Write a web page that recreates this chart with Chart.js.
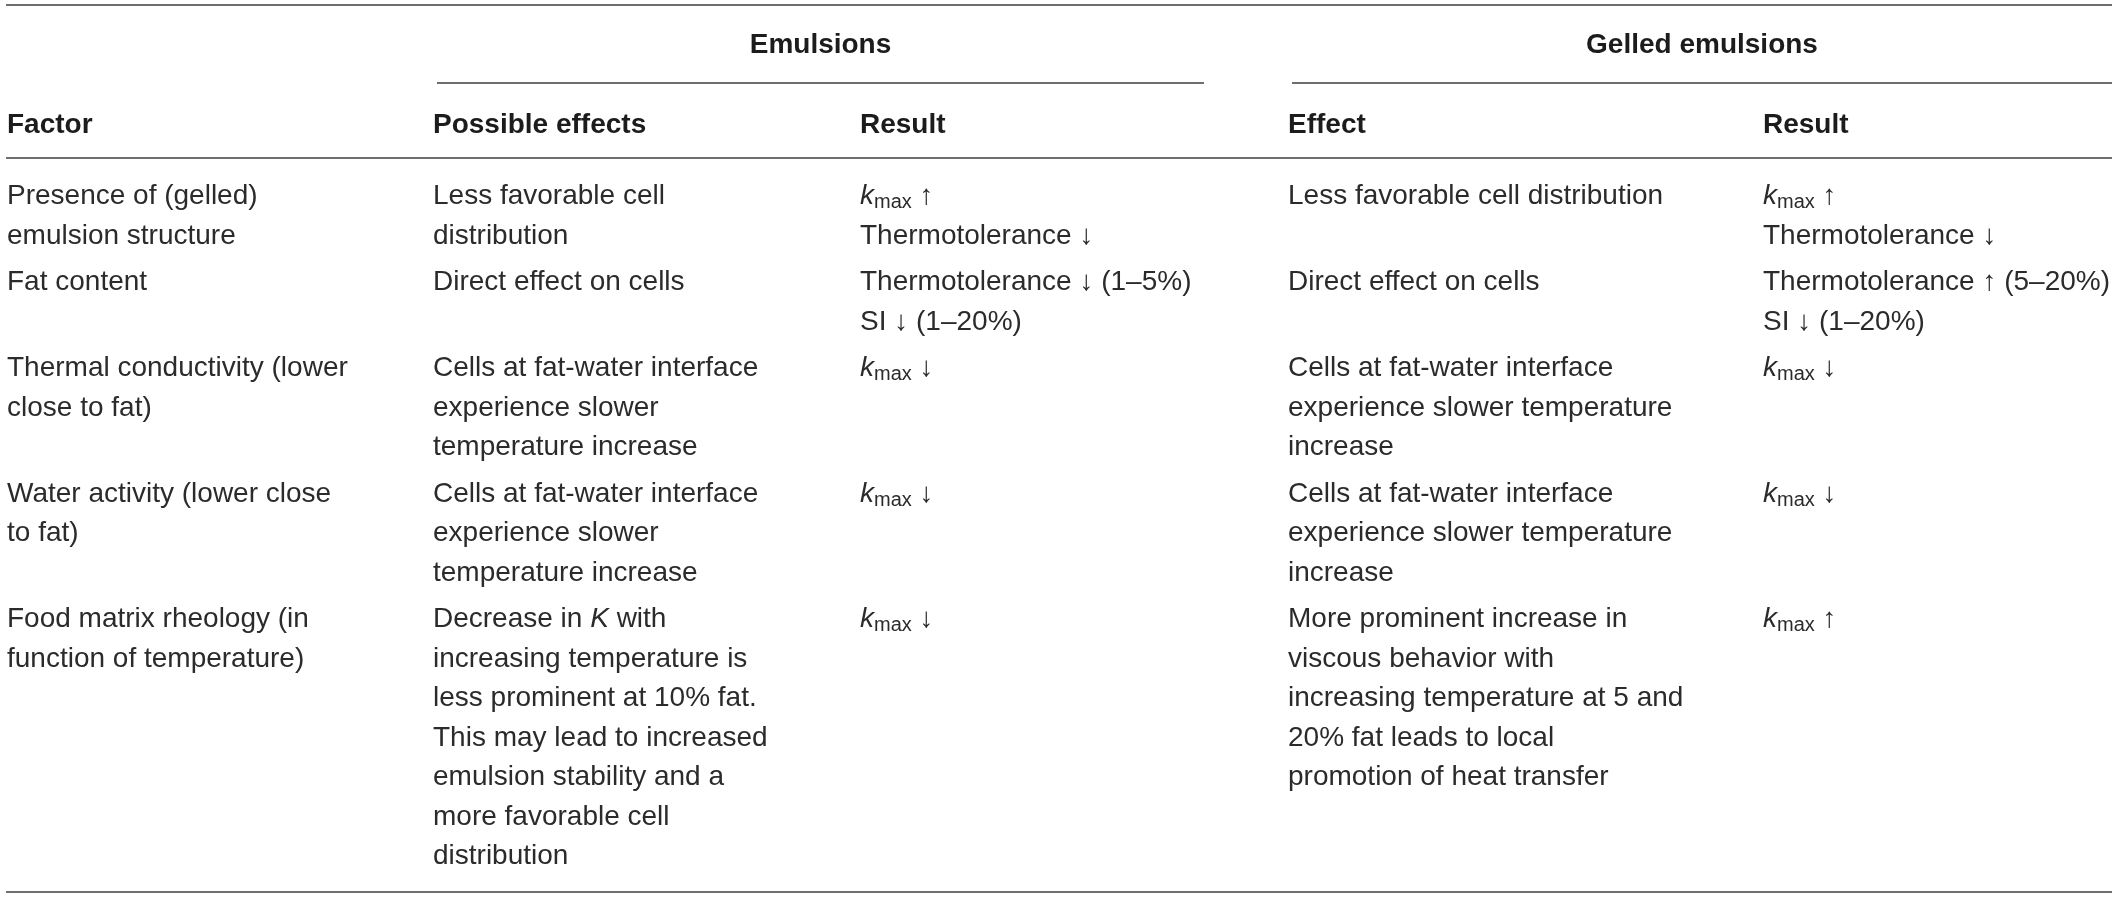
<!DOCTYPE html>
<html><head><meta charset="utf-8">
<script src="https://cdn.jsdelivr.net/npm/chart.js@4.4.1/dist/chart.umd.min.js"></script>
<style>html,body{margin:0;padding:0;background:#fff;overflow:hidden}canvas{display:block}</style>
</head><body>
<canvas id="c" width="2118" height="898"></canvas>
<script>
// ---------- DATA ----------
const groupHeaders = ["Emulsions", "Gelled emulsions"];
const columnHeaders = ["Factor", "Possible effects", "Result", "Effect", "Result"];
const factors = [
  ["Presence of (gelled)", "emulsion structure"],
  ["Fat content"],
  ["Thermal conductivity (lower", "close to fat)"],
  ["Water activity (lower close", "to fat)"],
  ["Food matrix rheology (in", "function of temperature)"]
];
const emulsionEffects = [
  ["Less favorable cell", "distribution"],
  ["Direct effect on cells"],
  ["Cells at fat-water interface", "experience slower", "temperature increase"],
  ["Cells at fat-water interface", "experience slower", "temperature increase"],
  ["Decrease in *K* with", "increasing temperature is", "less prominent at 10% fat.", "This may lead to increased", "emulsion stability and a", "more favorable cell", "distribution"]
];
const emulsionResults = [
  ["k_max ↑", "Thermotolerance ↓"],
  ["Thermotolerance ↓ (1–5%)", "SI ↓ (1–20%)"],
  ["k_max ↓"],
  ["k_max ↓"],
  ["k_max ↓"]
];
const gelledEffects = [
  ["Less favorable cell distribution"],
  ["Direct effect on cells"],
  ["Cells at fat-water interface", "experience slower temperature", "increase"],
  ["Cells at fat-water interface", "experience slower temperature", "increase"],
  ["More prominent increase in", "viscous behavior with", "increasing temperature at 5 and", "20% fat leads to local", "promotion of heat transfer"]
];
const gelledResults = [
  ["k_max ↑", "Thermotolerance ↓"],
  ["Thermotolerance ↑ (5–20%)", "SI ↓ (1–20%)"],
  ["k_max ↓"],
  ["k_max ↓"],
  ["k_max ↑"]
];
const bodyColumns = [factors, emulsionEffects, emulsionResults, gelledEffects, gelledResults];

// ---------- LAYOUT (positions / styles only) ----------
const L = {
  W: 2118, H: 898,
  family: "'Liberation Sans', Arial, Helvetica, sans-serif",
  size: 28, subSize: 20, subShift: 4,
  colX: [7, 433, 860, 1288, 1763],
  groupSpans: [[437, 1204], [1292, 2112]],
  ruleX: [6, 2112],
  topRule: 5, groupRule: 83, headRule: 158,
  groupBase: 53, headBase: 133,
  firstBase: 204, pitch: 39.5, rowGap: 7, bottomPad: 28,
  ruleColor: '#6e6e6e', ruleWidth: 2,
  textColor: '#2b2b2b', headColor: '#1c1c1c'
};

// row line counts derived from data
const rowLines = factors.map((_, r) => Math.max(...bodyColumns.map(col => col[r].length)));
const rowStart = [];
{
  let y = L.firstBase;
  rowLines.forEach((n, r) => { rowStart.push(y); y += n * L.pitch + L.rowGap; });
}
const lastBase = rowStart[rowStart.length - 1] + (rowLines[rowLines.length - 1] - 1) * L.pitch;
const bottomRule = lastBase + L.bottomPad;

// ---------- DATASETS ----------
const datasets = [];
function rule(x0, x1, y) {
  datasets.push({
    type: 'line', data: [{x: x0, y: y}, {x: x1, y: y}],
    borderColor: L.ruleColor, borderWidth: L.ruleWidth, pointRadius: 0, showLine: true, fill: false
  });
}
rule(L.ruleX[0], L.ruleX[1], L.topRule);
L.groupSpans.forEach(s => rule(s[0], s[1], L.groupRule));
rule(L.ruleX[0], L.ruleX[1], L.headRule);
rule(L.ruleX[0], L.ruleX[1], bottomRule);

// group headers
datasets.push({
  type: 'scatter', pointRadius: 0,
  data: groupHeaders.map((g, i) => ({x: (L.groupSpans[i][0] + L.groupSpans[i][1]) / 2, y: L.groupBase})),
  texts: groupHeaders, textStyle: {bold: true, align: 'center', color: L.headColor}
});
// column headers
datasets.push({
  type: 'scatter', pointRadius: 0,
  data: columnHeaders.map((h, i) => ({x: L.colX[i], y: L.headBase})),
  texts: columnHeaders, textStyle: {bold: true, align: 'left', color: L.headColor}
});
// body cells
bodyColumns.forEach((col, c) => {
  const pts = [], texts = [];
  col.forEach((cell, r) => {
    cell.forEach((line, l) => {
      pts.push({x: L.colX[c], y: rowStart[r] + l * L.pitch});
      texts.push(line);
    });
  });
  datasets.push({type: 'scatter', pointRadius: 0, data: pts, texts: texts,
    textStyle: {bold: false, align: 'left', color: L.textColor}});
});

// ---------- RICH TEXT ----------
function parseRich(str, bold) {
  const w = bold ? 'bold ' : '';
  const base = `${w}${L.size}px ${L.family}`;
  const ital = `italic ${w}${L.size}px ${L.family}`;
  const sub = `${w}${L.subSize}px ${L.family}`;
  const segs = [];
  str.split(/(k_max|\*[^*]+\*)/).forEach(p => {
    if (!p) return;
    if (p === 'k_max') {
      segs.push({t: 'k', f: ital, dy: 0});
      segs.push({t: 'max', f: sub, dy: L.subShift});
    } else if (p[0] === '*' && p[p.length - 1] === '*' && p.length > 2) {
      segs.push({t: p.slice(1, -1), f: ital, dy: 0});
    } else {
      segs.push({t: p, f: base, dy: 0});
    }
  });
  return segs;
}
function drawRich(ctx, str, x, y, st) {
  const segs = parseRich(str, st.bold);
  let total = 0;
  segs.forEach(s => { ctx.font = s.f; s.w = ctx.measureText(s.t).width; total += s.w; });
  let cx = st.align === 'center' ? x - total / 2 : x;
  ctx.fillStyle = st.color;
  ctx.textBaseline = 'alphabetic';
  ctx.textAlign = 'left';
  segs.forEach(s => { ctx.font = s.f; ctx.fillText(s.t, cx, y + s.dy); cx += s.w; });
}
const cellText = {
  id: 'cellText',
  afterDatasetsDraw(chart) {
    const ctx = chart.ctx;
    ctx.save();
    chart.data.datasets.forEach((ds, i) => {
      if (!ds.texts) return;
      const meta = chart.getDatasetMeta(i);
      meta.data.forEach((pt, j) => drawRich(ctx, ds.texts[j], pt.x, pt.y, ds.textStyle));
    });
    ctx.restore();
  }
};

new Chart(document.getElementById('c'), {
  type: 'scatter',
  data: {datasets: datasets},
  options: {
    responsive: false,
    animation: false,
    layout: {padding: 0},
    plugins: {legend: {display: false}, tooltip: {enabled: false}},
    scales: {
      x: {type: 'linear', min: 0, max: L.W, display: false},
      y: {type: 'linear', min: 0, max: L.H, reverse: true, display: false}
    },
    events: []
  },
  plugins: [cellText]
});
</script>
</body></html>
